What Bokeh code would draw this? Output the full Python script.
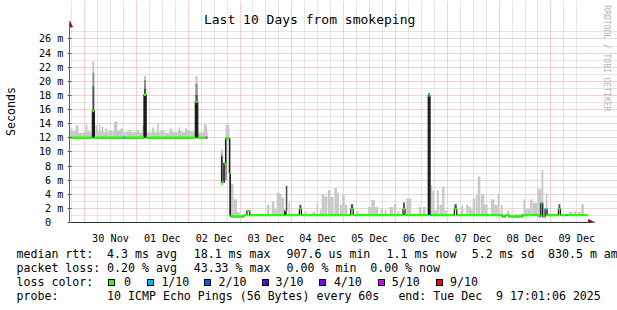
import math
from bokeh.plotting import figure
from bokeh.models import Range1d, FixedTicker, Grid, Label, Arrow, NormalHead, Div
from bokeh.layouts import column
from bokeh.embed import file_html
from bokeh.resources import INLINE

# ---------------- data (time: hours since 29 Nov 17:00, values: ms) ----------------
DAY_LABELS = ["30 Nov", "01 Dec", "02 Dec", "03 Dec", "04 Dec",
              "05 Dec", "06 Dec", "07 Dec", "08 Dec", "09 Dec"]
DAY_NOON_H = [19, 43, 67, 91, 115, 139, 163, 187, 211, 235]
MIDNIGHT_H = [7, 31, 55, 79, 103, 127, 151, 175, 199, 223]
Y_TICKS = [0, 2, 4, 6, 8, 10, 12, 14, 16, 18, 20, 22, 24, 26]
Y_LABELS = ["0\u00a0\u00a0", "2 m", "4 m", "6 m", "8 m", "10 m", "12 m", "14 m",
            "16 m", "18 m", "20 m", "22 m", "24 m", "26 m"]

LOSS_NAMES = ["0", "1/10", "2/10", "3/10", "4/10", "5/10", "9/10"]
LOSS_COLORS = ["#26ff00", "#00b8ff", "#0059ff", "#5e00ff", "#7e00ff", "#dd00ff", "#ff0000"]

# median rtt segments
MED_START = [0.0, 10.6, 11.5, 24.9, 25.8, 34.5, 35.5, 58.3, 59.4, 63.3,
             70.2, 70.6, 71.5, 72.3, 74.1, 74.5, 80.8, 82.2, 83.5, 99.7,
             100.3, 106.5, 107.4, 130.3, 131.4, 154.5, 155.4, 166.2, 167.0, 167.7,
             178.3, 179.4, 200.5, 202.0, 203.5, 209.8, 217.5, 218.3, 219.2, 220.3,
             221.2, 226.5, 227.4, 230.2, 230.7]
MED_END = [10.6, 11.5, 24.9, 25.8, 34.5, 35.5, 58.3, 59.4, 63.3, 63.8,
           70.6, 71.5, 72.3, 74.1, 74.5, 80.8, 82.2, 83.5, 99.7, 100.3,
           106.5, 107.4, 130.3, 131.4, 154.5, 155.4, 166.2, 167.0, 167.7, 178.3,
           179.4, 200.5, 202.0, 203.5, 209.8, 217.5, 218.3, 219.2, 220.3, 221.2,
           226.5, 227.4, 230.2, 230.7, 240.0]
MED_VAL = [12.0, 15.8, 12.0, 12.0, 12.0, 18.1, 12.0, 17.1, 12.0, 12.0,
           9.5, 5.7, 8.4, 11.9, 6.9, 0.85, 1.05, 1.65, 1.05, 1.65,
           1.05, 1.9, 1.05, 1.9, 1.05, 1.9, 1.05, 18.0, 1.05, 1.05,
           1.9, 1.05, 0.85, 1.05, 0.85, 1.05, 0.85, 2.7, 0.8, 1.9,
           1.05, 1.9, 1.05, 1.05, 1.05]
MED_LOSS = [0, 0, 0, 1, 0, 0, 0, 0, 0, 5,
            0, 0, 0, 0, 0, 0, 0, 0, 0, 1,
            0, 0, 0, 0, 0, 0, 0, 1, 1, 0,
            0, 0, 0, 0, 0, 0, 0, 1, 0, 1,
            0, 0, 0, 1, 0]

# large spikes: black body, then dark / mid / light smoke above the median
SPK_T0 = [10.6, 34.5, 58.3, 166.2]
SPK_T1 = [11.5, 35.5, 59.4, 167.0]
SPK_BASE = [12.0, 12.0, 12.0, 1.05]
SPK_MED = [15.8, 18.1, 17.1, 18.0]
SPK_DARK = [19.3, 19.0, 18.1, 18.3]
SPK_MID = [21.2, 20.2, 19.7, 18.3]
SPK_LIGHT = [22.8, 20.8, 20.7, 18.3]

# transition on 02 Dec (black bars)
TR_T0 = [70.2, 71.5, 72.3, 74.1]
TR_T1 = [70.6, 71.9, 72.7, 74.5]
TR_LO = [5.7, 5.6, 6.0, 1.05]
TR_HI = [9.6, 8.4, 11.9, 11.9]

# small spikes: dark smoke above median
SS_T0 = [100.2, 106.5, 130.3, 154.5, 178.3, 226.5]
SS_T1 = [100.9, 107.4, 131.4, 155.4, 179.4, 227.4]
SS_LO = [1.65, 1.9, 1.9, 1.9, 1.9, 1.9]
SS_HI = [5.2, 2.5, 2.6, 2.85, 2.6, 2.6]

# light smoke, first period (2-hour bins from 0 h, bottom at 12 ms)
R1_BIN_TOP = [12.9, 13.0, 12.7, 12.8, 12.9, 12.6, 13.0, 12.9, 12.8, 13.0,
              12.9, 13.0, 12.8, 12.9, 12.8, 12.9, 12.8, 12.6, 12.8, 12.9,
              12.8, 13.0, 12.7, 12.9, 12.8, 13.0, 12.8, 13.0, 12.9, 12.6,
              12.8, 12.9]
R1_BAR_T0 = [0.5, 2.8, 7.4, 12.0, 13.7, 14.8, 16.6, 20.6, 23.5, 27.6,
             31.4, 33.7, 38.3, 40.6, 46.6, 50.6, 53.5, 62.2]
R1_BAR_T1 = [1.4, 4.2, 8.3, 12.9, 14.3, 15.6, 17.5, 22.2, 24.8, 28.5,
             32.2, 34.5, 39.1, 41.4, 47.5, 51.2, 54.5, 63.7]
R1_BAR_TOP = [13.3, 13.75, 13.9, 13.75, 14.0, 13.6, 13.3, 14.3, 13.3, 13.1,
              13.1, 13.75, 13.5, 14.0, 13.3, 13.5, 13.3, 13.9]

# light smoke around the 02 Dec drop
TS_T0 = [70.0, 72.3]
TS_T1 = [71.2, 74.1]
TS_LO = [5.2, 11.9]
TS_HI = [10.3, 13.8]

# light smoke, later period (bottom at median ~1 ms)
LATE_T0 = [74.5, 76.0, 77.6, 91.4, 93.7, 94.8, 96.0, 97.5, 98.3, 101.4,
           109.0, 112.6, 114.5, 116.0, 116.8, 118.0, 119.6, 120.8, 122.7, 123.9,
           125.2, 126.3, 127.5, 132.9, 138.3, 139.8, 141.4, 144.1, 146.0, 148.3,
           150.3, 151.8, 156.0, 161.8, 163.7, 167.2, 168.0, 168.8, 170.2, 171.4,
           172.6, 173.7, 175.2, 181.4, 183.7, 184.9, 186.0, 186.8, 188.3, 189.1,
           190.6, 192.1, 195.2, 196.8, 198.3, 199.8, 202.6, 206.3, 208.3, 210.3,
           211.1, 212.2, 213.4, 214.5, 216.8, 217.5, 218.6, 220.6, 221.4, 231.4,
           233.7, 235.5, 237.1]
LATE_T1 = [76.0, 77.6, 78.8, 92.6, 94.8, 96.0, 97.5, 98.3, 99.4, 102.1,
           109.8, 113.7, 115.2, 116.8, 118.0, 119.3, 120.8, 122.3, 123.9, 124.8,
           126.3, 127.5, 128.7, 134.0, 139.8, 141.4, 142.9, 145.2, 146.8, 149.9,
           151.4, 152.9, 158.3, 162.9, 164.9, 168.0, 168.8, 170.2, 171.1, 172.6,
           173.7, 174.8, 176.8, 182.4, 184.9, 186.0, 186.8, 188.0, 189.1, 190.3,
           192.1, 193.7, 196.8, 198.3, 199.1, 200.6, 203.7, 207.2, 209.8, 211.1,
           212.2, 213.4, 214.5, 216.8, 217.5, 218.6, 219.5, 221.4, 222.9, 232.9,
           234.9, 236.8, 238.3]
LATE_TOP = [5.5, 3.3, 1.5, 2.5, 3.0, 1.9, 4.2, 4.0, 3.5, 2.8,
            1.6, 1.5, 2.8, 1.8, 4.0, 3.7, 4.6, 3.6, 4.9, 4.2,
            2.5, 3.9, 2.5, 1.6, 2.2, 3.2, 2.2, 2.0, 1.8, 2.2,
            2.6, 1.6, 3.4, 2.2, 2.2, 5.3, 4.55, 1.7, 4.55, 2.5,
            5.1, 1.7, 1.2, 2.4, 2.5, 2.2, 1.8, 3.4, 3.9, 6.5,
            3.9, 2.5, 3.3, 2.5, 4.1, 2.5, 1.6, 1.2, 1.2, 3.3,
            2.0, 1.9, 3.3, 2.8, 4.9, 4.7, 7.4, 4.1, 1.3, 1.5,
            1.6, 1.5, 2.6]
LATE_BASE = 1.05

STATS_RTT = ["median rtt:", "4.3 ms avg", "18.1 ms max", "907.6 us min",
             "1.1 ms now", "5.2 ms sd", "830.5 m am/as"]
STATS_LOSS = ["packet loss:", "0.20 % avg", "43.33 % max", "0.00 % min", "0.00 % now"]
PROBE = ["probe:", "10 ICMP Echo Pings (56 Bytes) every 60s",
         "end: Tue Dec  9 17:01:06 2025"]
TITLE = "Last 10 Days from smokeping"
WATERMARK = "RRDTOOL / TOBI OETIKER"

# ---------------- geometry / styling ----------------
MONO = "DejaVu Sans Mono"
SMOKE_LIGHT = "#c8c8c8"
SMOKE_MID = "#8c8c8c"
SMOKE_DARK = "#4e4e4e"
BLACKISH = "#1c1c1c"
ARROW_RED = "#9a1a1a"
AXIS_COL = "#303030"
X_END = 240.0        # data end (hours)
Y_TOP_GRID = 27.31   # top of grid (ms)
PX_H = 520.0 / 240.0 # px per hour
PX_MS = 7.25         # px per ms


def hx(px):
    return (px - 67) / PX_H


def my(py):
    return (228 - py) / PX_MS


p = figure(width=617, height=246, x_range=Range1d(0, hx(617)), y_range=Range1d(0, my(0)),
           output_backend="svg", toolbar_location=None, title=None,
           min_border_left=67, min_border_right=0, min_border_top=0, min_border_bottom=18,
           background_fill_color="white", border_fill_color="white",
           outline_line_color=None)
p.xgrid.visible = False
p.ygrid.visible = False

minor_x = [h for h in range(1, 240, 6) if h not in MIDNIGHT_H]
GRID_GREY = "#cdcdcd"
GRID_RED = "#efa0a0"
p.add_layout(Grid(dimension=0, ticker=FixedTicker(ticks=minor_x), bounds=(0, Y_TOP_GRID),
                  grid_line_color=GRID_GREY, grid_line_dash="1 1"))
p.add_layout(Grid(dimension=1, ticker=FixedTicker(ticks=list(range(1, 28, 2))),
                  bounds=(0, X_END), grid_line_color=GRID_GREY, grid_line_dash="1 1"))
p.add_layout(Grid(dimension=0, ticker=FixedTicker(ticks=MIDNIGHT_H), bounds=(0, Y_TOP_GRID),
                  grid_line_color=GRID_RED, grid_line_dash="1 1"))
p.add_layout(Grid(dimension=1, ticker=FixedTicker(ticks=Y_TICKS[1:]), bounds=(0, X_END),
                  grid_line_color=GRID_RED, grid_line_dash="1 1"))

# light smoke
r1_left = [2 * i for i in range(len(R1_BIN_TOP))]
r1_right = [2 * i + 2 for i in range(len(R1_BIN_TOP))]
p.quad(left=r1_left, right=r1_right, bottom=[12.0] * len(R1_BIN_TOP), top=R1_BIN_TOP,
       fill_color=SMOKE_LIGHT, line_color=None)
p.quad(left=R1_BAR_T0, right=R1_BAR_T1, bottom=[12.0] * len(R1_BAR_T0), top=R1_BAR_TOP,
       fill_color=SMOKE_LIGHT, line_color=None)
p.quad(left=TS_T0, right=TS_T1, bottom=TS_LO, top=TS_HI,
       fill_color=SMOKE_LIGHT, line_color=None)
p.quad(left=LATE_T0, right=LATE_T1, bottom=[LATE_BASE] * len(LATE_T0), top=LATE_TOP,
       fill_color=SMOKE_LIGHT, line_color=None)

# spikes
p.quad(left=SPK_T0, right=SPK_T1, bottom=SPK_MID, top=SPK_LIGHT,
       fill_color=SMOKE_LIGHT, line_color=None)
p.quad(left=SPK_T0, right=SPK_T1, bottom=SPK_DARK, top=SPK_MID,
       fill_color=SMOKE_MID, line_color=None)
p.quad(left=SPK_T0, right=SPK_T1, bottom=SPK_MED, top=SPK_DARK,
       fill_color=SMOKE_DARK, line_color=None)
p.quad(left=SPK_T0, right=SPK_T1, bottom=SPK_BASE, top=SPK_MED,
       fill_color=BLACKISH, line_color=None)
p.quad(left=SS_T0, right=SS_T1, bottom=SS_LO, top=SS_HI,
       fill_color=SMOKE_DARK, line_color=None)
p.quad(left=TR_T0, right=TR_T1, bottom=TR_LO, top=TR_HI,
       fill_color=BLACKISH, line_color=None)

# median as step line (black verticals) + loss-coloured horizontals
xs, ys = [], []
for i in range(len(MED_START)):
    xs += [MED_START[i], MED_END[i]]
    ys += [MED_VAL[i], MED_VAL[i]]
    if i + 1 < len(MED_START) and abs(MED_END[i] - MED_START[i + 1]) > 1e-6:
        xs.append(float("nan"))
        ys.append(float("nan"))
p.line(xs, ys, line_color=BLACKISH, line_width=1.3)
p.segment(x0=MED_START, y0=MED_VAL, x1=MED_END, y1=MED_VAL,
          line_color=[LOSS_COLORS[k] for k in MED_LOSS], line_width=2.4)

# axes
xa = p.xaxis[0]
xa.ticker = FixedTicker(ticks=DAY_NOON_H)
xa.bounds = (0, hx(591))
xa.major_label_overrides = {h: s for h, s in zip(DAY_NOON_H, DAY_LABELS)}
xa.major_label_text_font = MONO
xa.major_label_text_font_size = "10.2px"
xa.major_label_text_color = "black"
xa.major_tick_line_color = None
xa.minor_tick_line_color = None
xa.major_label_standoff = 4
xa.axis_line_color = AXIS_COL

ya = p.yaxis[0]
ya.ticker = FixedTicker(ticks=Y_TICKS)
ya.bounds = (0, my(24))
ya.major_label_overrides = {t: s for t, s in zip(Y_TICKS, Y_LABELS)}
ya.major_label_text_font = MONO
ya.major_label_text_font_size = "10.2px"
ya.major_label_text_color = "black"
ya.major_tick_out = 2
ya.major_tick_in = 2
ya.major_tick_line_color = "#606060"
ya.minor_tick_line_color = None
ya.major_label_standoff = 4
ya.axis_line_color = "#606060"
ya.axis_label = "Seconds"
ya.axis_label_text_font = MONO
ya.axis_label_text_font_size = "11.6px"
ya.axis_label_text_font_style = "normal"
ya.axis_label_text_color = "black"
ya.axis_label_standoff = 18

# axis arrows
p.add_layout(Arrow(end=NormalHead(size=6, fill_color=ARROW_RED, line_color=ARROW_RED),
                   x_start=0, y_start=my(30), x_end=0, y_end=my(21),
                   line_color="#606060", line_width=1))
p.add_layout(Arrow(end=NormalHead(size=6, fill_color=ARROW_RED, line_color=ARROW_RED),
                   x_start=hx(585), y_start=0, x_end=hx(594), y_end=0,
                   line_color=AXIS_COL, line_width=1))

p.add_layout(Label(x=hx(308), y=my(19), text=TITLE,
                   text_align="center", text_baseline="middle",
                   text_font=MONO, text_font_size="13px", text_color="black"))
p.add_layout(Label(x=hx(606), y=my(5), text=WATERMARK, angle=-math.pi / 2,
                   text_align="left", text_baseline="middle",
                   text_font=MONO, text_font_size="8px", text_color="#b4b4b4"))

# ---------------- footer (legend) as positioned HTML text ----------------
foot_x = [16.5, 107.1, 193.7, 286.6, 386.6, 471.7, 548.0,
          16.5, 107.1, 193.7, 286.6, 370.2,
          16.5,
          16.5, 107.1, 398.4]
foot_c = [9] * 7 + [23] * 5 + [37] + [51] * 3
foot_t = STATS_RTT + STATS_LOSS + ["loss color:"] + PROBE
box_x = [108.2, 146.5, 203.8, 261.7, 319.0, 378.0, 436.0]
lbl_x = [124.0, 161.4, 218.5, 275.6, 333.9, 391.7, 450.0]

spans = []
for x, c, t in zip(foot_x, foot_c, foot_t):
    spans.append('<span style="position:absolute;left:%.1fpx;top:%.1fpx;">%s</span>'
                 % (x, c - 5.8, t))
for bx, lx, col, name in zip(box_x, lbl_x, LOSS_COLORS, LOSS_NAMES):
    spans.append('<span style="position:absolute;left:%.1fpx;top:%.1fpx;width:7px;height:7px;'
                 'box-sizing:border-box;border:1px solid #000;background:%s;"></span>'
                 % (bx, 36.5 - 3.5, col))
    spans.append('<span style="position:absolute;left:%.1fpx;top:%.1fpx;">%s</span>'
                 % (lx, 37 - 5.8, name))
html = ('<div style="position:relative;width:617px;height:64px;overflow:hidden;'
        "font-family:'DejaVu Sans Mono';font-size:11.6px;line-height:1;color:#000;"
        'white-space:pre;background:#fff;">' + "".join(spans) + "</div>")
foot = Div(text=html, width=617, height=64, margin=0)

layout = column(p, foot, spacing=0)
open("out.html", "w").write(file_html(layout, INLINE))
